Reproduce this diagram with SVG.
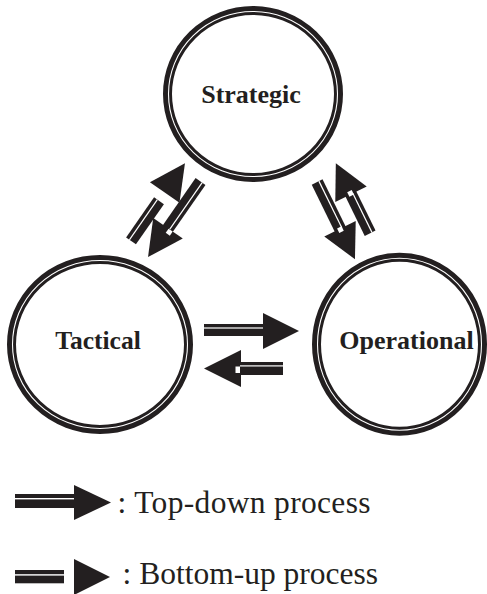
<svg xmlns="http://www.w3.org/2000/svg" width="487" height="594" viewBox="0 0 487 594">
<style>
.ring{fill:#fff;stroke:#231f20;stroke-width:9}
.ringline{fill:none;stroke:#fff;stroke-width:1.1}
.lbl{font-family:"Liberation Serif","Times New Roman",serif;font-weight:bold;font-size:26px;fill:#231f20;text-anchor:middle}
.leg{font-family:"Liberation Serif","Times New Roman",serif;font-size:31.5px;fill:#231f20}
.blk{fill:#231f20}
.wht{fill:#fff}
</style>
<rect width="487" height="594" fill="#fff"/>
<g id="node-strategic">
<ellipse class="ring" cx="253" cy="94" rx="85.5" ry="83.5"/>
<ellipse class="ringline" cx="253" cy="94" rx="84.5" ry="82.5"/>
<text class="lbl" x="251" y="103">Strategic</text>
</g>
<g id="node-tactical">
<ellipse class="ring" cx="100" cy="344.5" rx="88.5" ry="85"/>
<ellipse class="ringline" cx="100" cy="344.5" rx="87.5" ry="84"/>
<text class="lbl" x="98" y="349" style="font-size:25.5px">Tactical</text>
</g>
<g id="node-operational">
<ellipse class="ring" cx="399.5" cy="344.2" rx="83" ry="87"/>
<ellipse class="ringline" cx="399.5" cy="344.2" rx="82" ry="86"/>
<text class="lbl" x="406.5" y="349">Operational</text>
</g>
<g id="connectors">
<g id="arrow-t-o">
<rect class="blk" x="204" y="324" width="60" height="12"/>
<rect class="wht" x="204" y="327.4" width="59" height="1.2"/>
<polygon class="blk" points="263,313 299,331 263,349"/>
</g>
<g id="arrow-o-t">
<polygon class="blk" points="204,368.5 241,350 241,387"/>
<rect class="blk" x="236" y="362" width="47" height="13"/>
<rect class="wht" x="240" y="365.3" width="43" height="1.2"/>
<rect class="wht" x="235.5" y="366.5" width="4.5" height="6.5"/>
</g>
<g id="arrow-s-t" transform="translate(168,228.3) rotate(124.8)">
<rect class="blk" x="-57" y="-6" width="59" height="12"/>
<rect class="wht" x="-57" y="-2.6" width="57" height="1.2"/>
<polygon class="blk" points="0,-18 35,0 0,18"/>
<rect class="wht" x="0" y="-5.7" width="5" height="5"/>
</g>
<g id="arrow-t-s" transform="translate(164.7,192.5) rotate(-55.2)">
<rect class="blk" x="-59" y="-6" width="49" height="12"/>
<rect class="wht" x="-59" y="-2.6" width="49" height="1.2"/>
<polygon class="blk" points="0,-18 35.5,0 0,18"/>
</g>
<g id="arrow-s-o" transform="translate(340,228.7) rotate(63.9)">
<rect class="blk" x="-52" y="-6" width="54" height="12"/>
<rect class="wht" x="-52" y="-2.6" width="52" height="1.2"/>
<polygon class="blk" points="0,-17.5 34,0 0,17.5"/>
<rect class="wht" x="-1.5" y="-2.5" width="5" height="5"/>
</g>
<g id="arrow-o-s" transform="translate(351,194.2) rotate(-116.1)">
<rect class="blk" x="-43.5" y="-6" width="45" height="12"/>
<rect class="wht" x="-43.5" y="1.4" width="43.5" height="1.2"/>
<polygon class="blk" points="0,-17.5 34.5,0 0,17.5"/>
<rect class="wht" x="-1.5" y="-2.5" width="5" height="5"/>
</g>
</g>
<g id="legend">
<g id="legend-top-down">
<rect class="blk" x="15" y="494" width="60" height="14"/>
<rect class="wht" x="15" y="498" width="59" height="1.4"/>
<polygon class="blk" points="74,485 111,502.5 74,520"/>
<text class="leg" x="117.5" y="512.7" textLength="253" lengthAdjust="spacing">: Top-down process</text>
</g>
<g id="legend-bottom-up">
<rect class="blk" x="15" y="570" width="49" height="13.3"/>
<rect class="wht" x="15" y="574.2" width="49" height="1.4"/>
<polygon class="blk" points="74,559 110,577 74,595"/>
<text class="leg" x="122.5" y="584.3">: Bottom-up process</text>
</g>
</g>
</svg>
